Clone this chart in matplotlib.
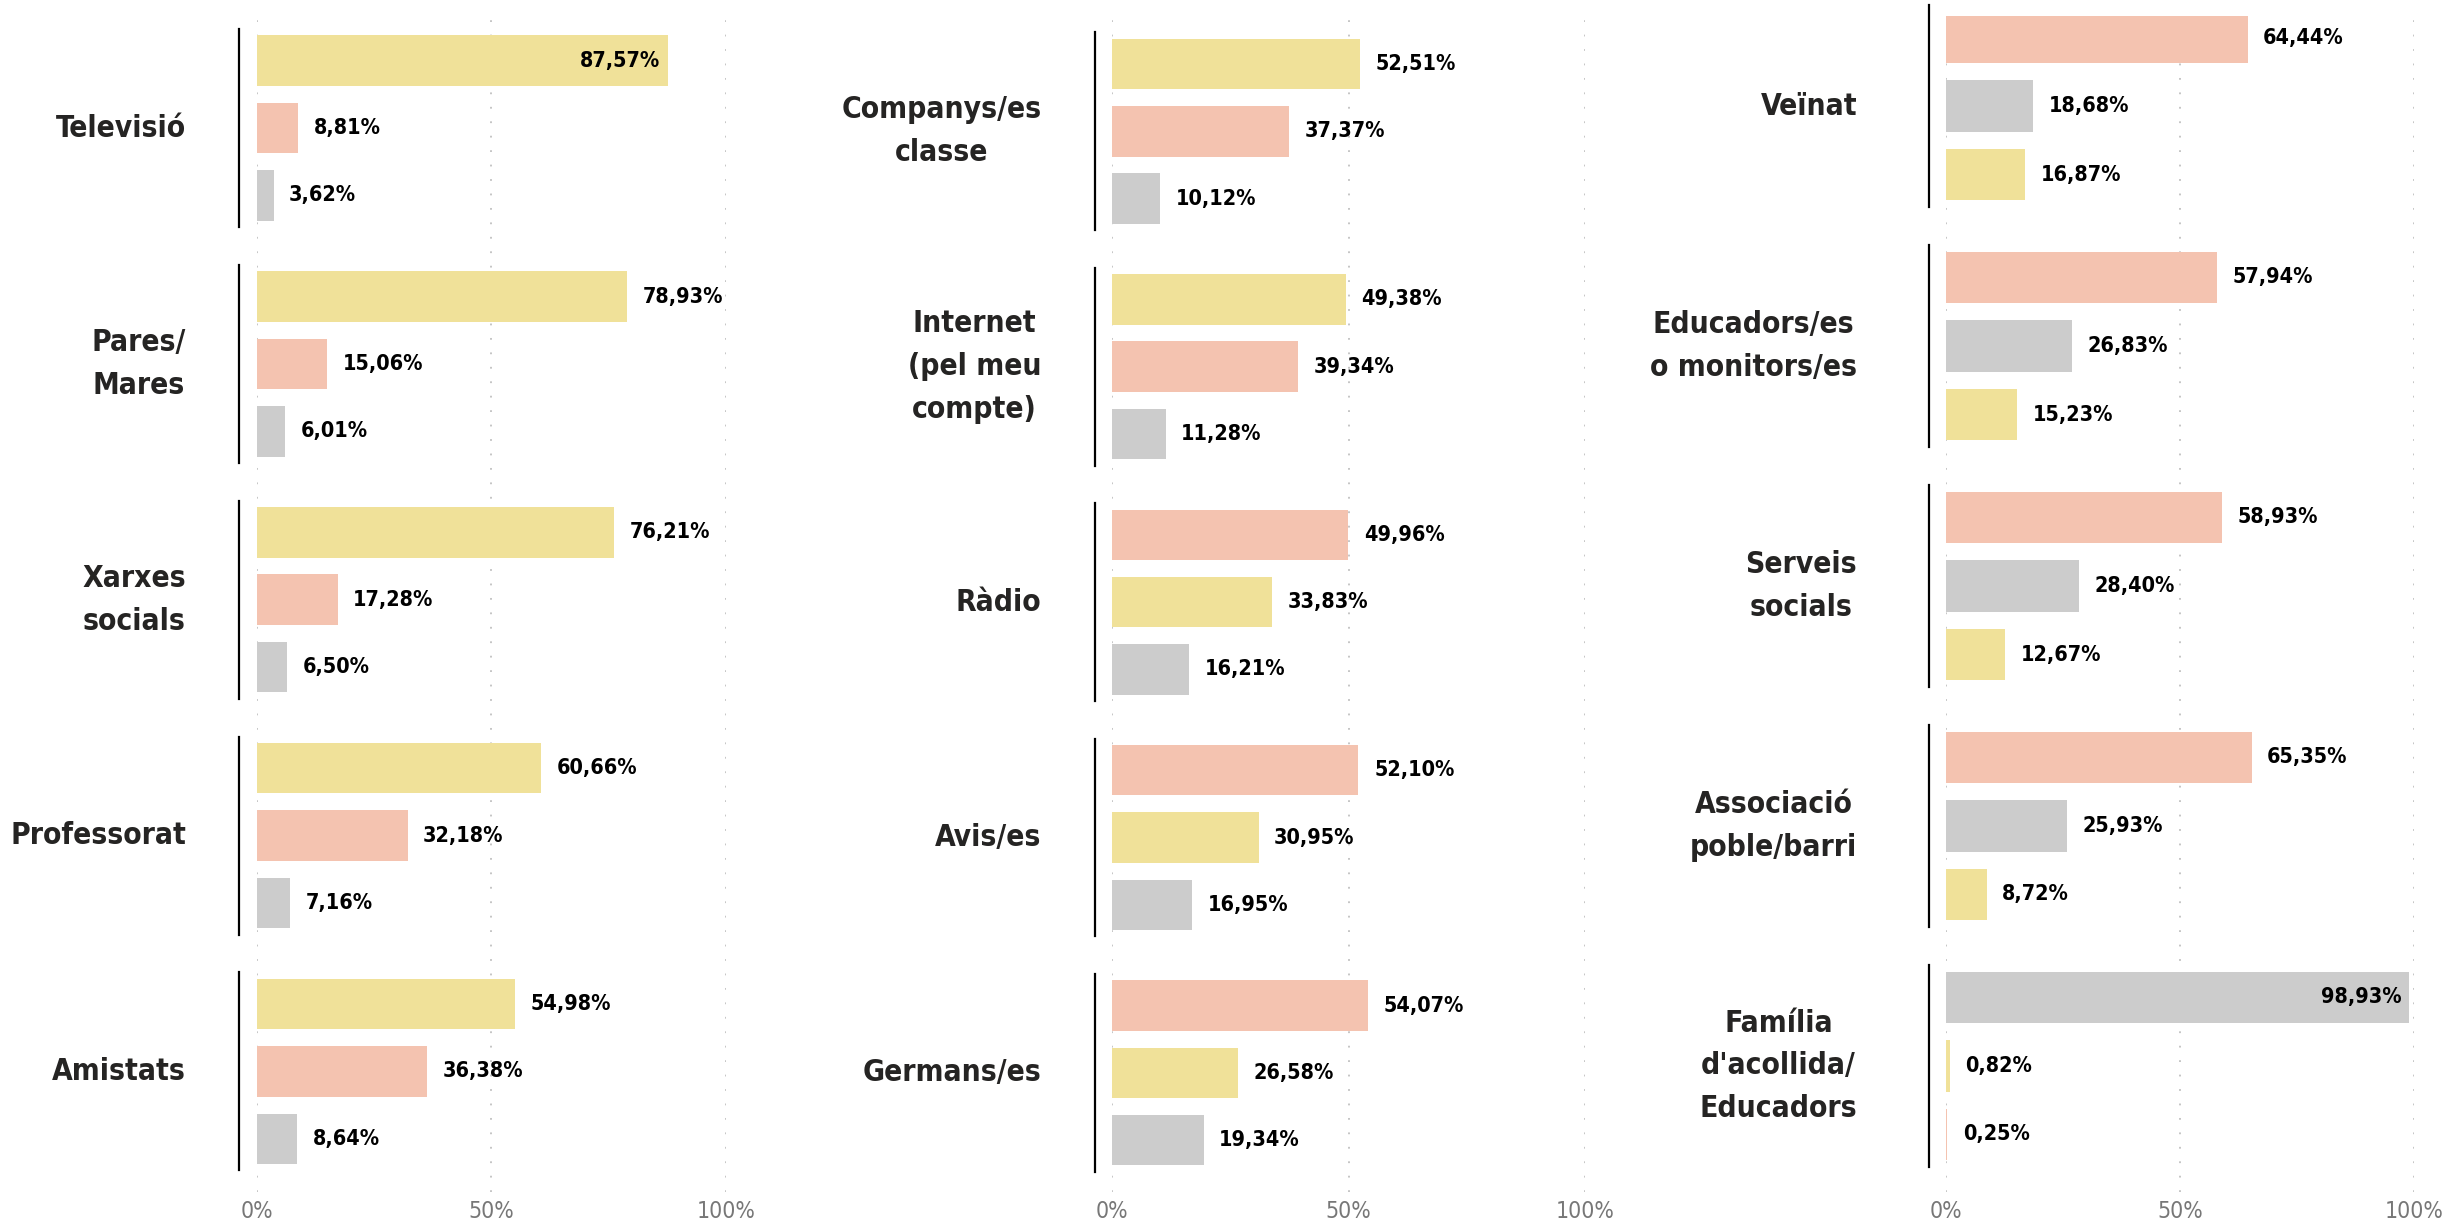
import matplotlib.pyplot as plt

plt.rcParams['font.family'] = ['DejaVu Sans']
plt.rcParams['font.stretch'] = 'condensed'

# colors of the three answer series
c_groc = '#F0E199'
c_salmo = '#F4C3B0'
c_gris = '#CCCCCC'

# column 1
cats_1 = ["Televisió", "Pares/\nMares", "Xarxes\nsocials", "Professorat", "Amistats"]
groc_1 = [87.57, 78.93, 76.21, 60.66, 54.98]
salmo_1 = [8.81, 15.06, 17.28, 32.18, 36.38]
gris_1 = [3.62, 6.01, 6.50, 7.16, 8.64]

# column 2
cats_2 = ["Companys/es\nclasse", "Internet\n(pel meu\ncompte)", "Ràdio", "Avis/es", "Germans/es"]
groc_2 = [52.51, 49.38, 33.83, 30.95, 26.58]
salmo_2 = [37.37, 39.34, 49.96, 52.10, 54.07]
gris_2 = [10.12, 11.28, 16.21, 16.95, 19.34]

# column 3
cats_3 = ["Veïnat", "Educadors/es\no monitors/es", "Serveis\nsocials", "Associació\npoble/barri",
          "Família\nd'acollida/\nEducadors"]
groc_3 = [16.87, 15.23, 12.67, 8.72, 0.82]
salmo_3 = [64.44, 57.94, 58.93, 65.35, 0.25]
gris_3 = [18.68, 26.83, 28.40, 25.93, 98.93]

columnes = [
    (cats_1, groc_1, salmo_1, gris_1),
    (cats_2, groc_2, salmo_2, gris_2),
    (cats_3, groc_3, salmo_3, gris_3),
]

fig = plt.figure(figsize=(24.53, 12.25), dpi=100)

W, H = 2453, 1225
x0s = [256.6, 1112.3, 1946.1]
x100s = [725.9, 1584.8, 2413.9]
ylims = [(16.79, -0.67), (16.77, -0.72), (16.84, -0.32)]
lab_x = [-15, -15, -19]
bot = 1 - 1192 / H
top = 1 - 15.6 / H

for k, (cats, groc, salmo, gris) in enumerate(columnes):
    ax = fig.add_axes([x0s[k] / W, bot, (x100s[k] - x0s[k]) / W, top - bot])
    for g, cat in enumerate(cats):
        vals = [(groc[g], c_groc), (salmo[g], c_salmo), (gris[g], c_gris)]
        vals.sort(key=lambda t: -t[0])
        base = g * 3.5
        for j, (v, c) in enumerate(vals):
            y = base + j
            ax.barh(y, v, height=0.75, color=c, zorder=2)
            txt = ('%.2f' % v).replace('.', ',') + '%'
            if v > 85:
                ax.text(v - 1.5, y, txt, ha='right', va='center', fontsize=15.5,
                        fontweight='bold', color='black', zorder=3)
            else:
                ax.text(v + 3.3, y, txt, ha='left', va='center', fontsize=15.5,
                        fontweight='bold', color='black', zorder=3)
        ax.plot([-3.7, -3.7], [base - 0.47, base + 2.47], color='black', lw=1.6,
                clip_on=False)
        ax.text(lab_x[k], base + 1, cat, ha='right', va='center', fontsize=21.5,
                fontweight='bold', color='#252423', multialignment='center',
                linespacing=1.6)

    ax.set_xlim(0, 100)
    ax.set_ylim(*ylims[k])
    ax.set_xticks([0, 50, 100])
    ax.set_xticklabels(['0%', '50%', '100%'], fontsize=16.5, color='#777777')
    ax.set_yticks([])
    ax.tick_params(axis='x', length=0, pad=6)
    ax.xaxis.grid(True, linestyle=(0, (1, 7)), color='#c0c0c0', lw=1.3)
    ax.set_axisbelow(True)
    for s in ax.spines.values():
        s.set_visible(False)

fig.savefig('out.png', dpi=100)
